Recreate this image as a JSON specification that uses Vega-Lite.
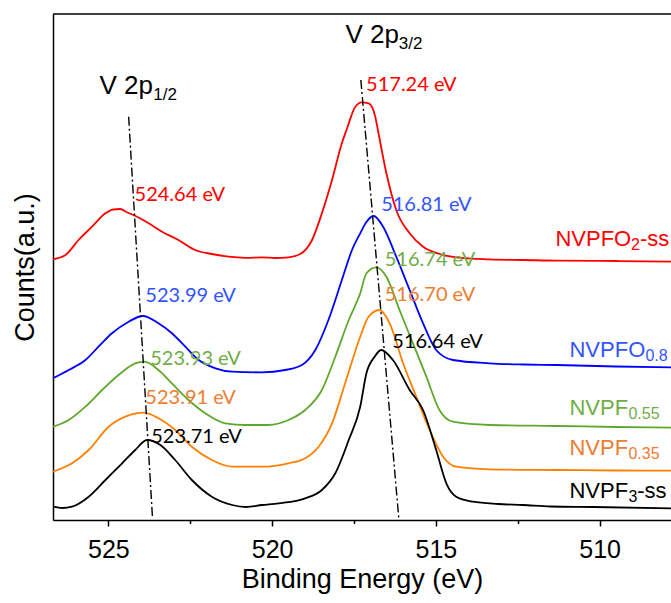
{
  "$schema": "https://vega.github.io/schema/vega-lite/v6.json",
  "width": 618,
  "height": 506,
  "autosize": {"type": "none"},
  "padding": {"left": 53, "top": 14, "right": 0, "bottom": 83},
  "background": "white",
  "config": {
    "view": {"stroke": null},
    "font": "Liberation Sans"
  },
  "datasets": {
    "spectra": [
      {"series": "NVPFO2-ss", "E": 526.69, "v": 260.7},
      {"series": "NVPFO2-ss", "E": 526.31, "v": 265},
      {"series": "NVPFO2-ss", "E": 525.91, "v": 280},
      {"series": "NVPFO2-ss", "E": 525.5, "v": 293.3},
      {"series": "NVPFO2-ss", "E": 525.09, "v": 306.7},
      {"series": "NVPFO2-ss", "E": 524.85, "v": 310.5},
      {"series": "NVPFO2-ss", "E": 524.64, "v": 311},
      {"series": "NVPFO2-ss", "E": 524.42, "v": 307.5},
      {"series": "NVPFO2-ss", "E": 524.23, "v": 305},
      {"series": "NVPFO2-ss", "E": 523.77, "v": 296.7},
      {"series": "NVPFO2-ss", "E": 523.36, "v": 288.3},
      {"series": "NVPFO2-ss", "E": 522.86, "v": 280},
      {"series": "NVPFO2-ss", "E": 522.35, "v": 270},
      {"series": "NVPFO2-ss", "E": 521.84, "v": 266},
      {"series": "NVPFO2-ss", "E": 521.33, "v": 263.3},
      {"series": "NVPFO2-ss", "E": 520.8, "v": 262.2},
      {"series": "NVPFO2-ss", "E": 520.31, "v": 262.7},
      {"series": "NVPFO2-ss", "E": 519.9, "v": 262},
      {"series": "NVPFO2-ss", "E": 519.5, "v": 262.7},
      {"series": "NVPFO2-ss", "E": 519.14, "v": 266},
      {"series": "NVPFO2-ss", "E": 518.78, "v": 280},
      {"series": "NVPFO2-ss", "E": 518.48, "v": 306.7},
      {"series": "NVPFO2-ss", "E": 518.17, "v": 340},
      {"series": "NVPFO2-ss", "E": 517.87, "v": 376.7},
      {"series": "NVPFO2-ss", "E": 517.71, "v": 391.7},
      {"series": "NVPFO2-ss", "E": 517.46, "v": 413.3},
      {"series": "NVPFO2-ss", "E": 517.26, "v": 417.7},
      {"series": "NVPFO2-ss", "E": 517.05, "v": 416.7},
      {"series": "NVPFO2-ss", "E": 516.85, "v": 403.3},
      {"series": "NVPFO2-ss", "E": 516.77, "v": 390},
      {"series": "NVPFO2-ss", "E": 516.51, "v": 346.7},
      {"series": "NVPFO2-ss", "E": 516.21, "v": 310},
      {"series": "NVPFO2-ss", "E": 515.8, "v": 286.7},
      {"series": "NVPFO2-ss", "E": 515.39, "v": 273.3},
      {"series": "NVPFO2-ss", "E": 514.89, "v": 266},
      {"series": "NVPFO2-ss", "E": 514.38, "v": 262.7},
      {"series": "NVPFO2-ss", "E": 513.36, "v": 260.7},
      {"series": "NVPFO2-ss", "E": 512.3, "v": 260},
      {"series": "NVPFO2-ss", "E": 511.32, "v": 259.3},
      {"series": "NVPFO2-ss", "E": 509.5, "v": 259},
      {"series": "NVPFO2-ss", "E": 507.81, "v": 258.3},

      {"series": "NVPFO0.8", "E": 526.69, "v": 141.7},
      {"series": "NVPFO0.8", "E": 526.21, "v": 150},
      {"series": "NVPFO0.8", "E": 525.7, "v": 160},
      {"series": "NVPFO0.8", "E": 525.3, "v": 173.3},
      {"series": "NVPFO0.8", "E": 524.89, "v": 186.7},
      {"series": "NVPFO0.8", "E": 524.38, "v": 198.3},
      {"series": "NVPFO0.8", "E": 523.95, "v": 204},
      {"series": "NVPFO0.8", "E": 523.47, "v": 196.7},
      {"series": "NVPFO0.8", "E": 523.06, "v": 186.7},
      {"series": "NVPFO0.8", "E": 522.65, "v": 173.3},
      {"series": "NVPFO0.8", "E": 522.24, "v": 160},
      {"series": "NVPFO0.8", "E": 521.73, "v": 151.7},
      {"series": "NVPFO0.8", "E": 521.22, "v": 148.3},
      {"series": "NVPFO0.8", "E": 520.31, "v": 147.7},
      {"series": "NVPFO0.8", "E": 519.6, "v": 150},
      {"series": "NVPFO0.8", "E": 519.09, "v": 155},
      {"series": "NVPFO0.8", "E": 518.68, "v": 170},
      {"series": "NVPFO0.8", "E": 518.28, "v": 200},
      {"series": "NVPFO0.8", "E": 517.87, "v": 240},
      {"series": "NVPFO0.8", "E": 517.56, "v": 270},
      {"series": "NVPFO0.8", "E": 517.31, "v": 286.7},
      {"series": "NVPFO0.8", "E": 517.12, "v": 298},
      {"series": "NVPFO0.8", "E": 516.9, "v": 304},
      {"series": "NVPFO0.8", "E": 516.61, "v": 293.3},
      {"series": "NVPFO0.8", "E": 516.21, "v": 263.3},
      {"series": "NVPFO0.8", "E": 515.8, "v": 230},
      {"series": "NVPFO0.8", "E": 515.39, "v": 196.7},
      {"series": "NVPFO0.8", "E": 514.99, "v": 170},
      {"series": "NVPFO0.8", "E": 514.48, "v": 160},
      {"series": "NVPFO0.8", "E": 513.36, "v": 156.7},
      {"series": "NVPFO0.8", "E": 512.3, "v": 155.5},
      {"series": "NVPFO0.8", "E": 511.32, "v": 155},
      {"series": "NVPFO0.8", "E": 509.5, "v": 153.5},
      {"series": "NVPFO0.8", "E": 507.81, "v": 152.7},

      {"series": "NVPF0.55", "E": 526.69, "v": 93.3},
      {"series": "NVPF0.55", "E": 526.21, "v": 100},
      {"series": "NVPF0.55", "E": 525.7, "v": 113.3},
      {"series": "NVPF0.55", "E": 525.19, "v": 130},
      {"series": "NVPF0.55", "E": 524.69, "v": 145},
      {"series": "NVPF0.55", "E": 524.18, "v": 156.7},
      {"series": "NVPF0.55", "E": 523.9, "v": 158.3},
      {"series": "NVPF0.55", "E": 523.47, "v": 150},
      {"series": "NVPF0.55", "E": 523.06, "v": 136.7},
      {"series": "NVPF0.55", "E": 522.55, "v": 120},
      {"series": "NVPF0.55", "E": 522.04, "v": 106.7},
      {"series": "NVPF0.55", "E": 521.43, "v": 96.7},
      {"series": "NVPF0.55", "E": 520.82, "v": 95},
      {"series": "NVPF0.55", "E": 520.11, "v": 95},
      {"series": "NVPF0.55", "E": 519.5, "v": 100},
      {"series": "NVPF0.55", "E": 518.99, "v": 110},
      {"series": "NVPF0.55", "E": 518.48, "v": 130},
      {"series": "NVPF0.55", "E": 518.07, "v": 163.3},
      {"series": "NVPF0.55", "E": 517.66, "v": 200},
      {"series": "NVPF0.55", "E": 517.31, "v": 226.7},
      {"series": "NVPF0.55", "E": 517.12, "v": 246.7},
      {"series": "NVPF0.55", "E": 516.82, "v": 252.7},
      {"series": "NVPF0.55", "E": 516.51, "v": 243.3},
      {"series": "NVPF0.55", "E": 516.11, "v": 210},
      {"series": "NVPF0.55", "E": 515.7, "v": 176.7},
      {"series": "NVPF0.55", "E": 515.29, "v": 143.3},
      {"series": "NVPF0.55", "E": 514.89, "v": 110},
      {"series": "NVPF0.55", "E": 514.48, "v": 98.3},
      {"series": "NVPF0.55", "E": 513.36, "v": 95},
      {"series": "NVPF0.55", "E": 511.32, "v": 94},
      {"series": "NVPF0.55", "E": 509.5, "v": 93},
      {"series": "NVPF0.55", "E": 507.81, "v": 92.3},

      {"series": "NVPF0.35", "E": 526.69, "v": 48.3},
      {"series": "NVPF0.35", "E": 526.11, "v": 56.7},
      {"series": "NVPF0.35", "E": 525.6, "v": 70},
      {"series": "NVPF0.35", "E": 524.99, "v": 93.3},
      {"series": "NVPF0.35", "E": 524.48, "v": 103.3},
      {"series": "NVPF0.35", "E": 523.92, "v": 107.3},
      {"series": "NVPF0.35", "E": 523.47, "v": 101.7},
      {"series": "NVPF0.35", "E": 522.96, "v": 90},
      {"series": "NVPF0.35", "E": 522.45, "v": 73.3},
      {"series": "NVPF0.35", "E": 521.84, "v": 60},
      {"series": "NVPF0.35", "E": 521.22, "v": 53.3},
      {"series": "NVPF0.35", "E": 520.31, "v": 53.3},
      {"series": "NVPF0.35", "E": 519.5, "v": 56.7},
      {"series": "NVPF0.35", "E": 518.99, "v": 61.7},
      {"series": "NVPF0.35", "E": 518.58, "v": 73.3},
      {"series": "NVPF0.35", "E": 518.17, "v": 96.7},
      {"series": "NVPF0.35", "E": 517.77, "v": 136.7},
      {"series": "NVPF0.35", "E": 517.31, "v": 183.3},
      {"series": "NVPF0.35", "E": 517.06, "v": 203},
      {"series": "NVPF0.35", "E": 516.72, "v": 210},
      {"series": "NVPF0.35", "E": 516.41, "v": 196.7},
      {"series": "NVPF0.35", "E": 516.0, "v": 156.7},
      {"series": "NVPF0.35", "E": 515.6, "v": 123.3},
      {"series": "NVPF0.35", "E": 515.19, "v": 90},
      {"series": "NVPF0.35", "E": 514.78, "v": 63.3},
      {"series": "NVPF0.35", "E": 514.38, "v": 53.3},
      {"series": "NVPF0.35", "E": 513.36, "v": 50.7},
      {"series": "NVPF0.35", "E": 511.32, "v": 50},
      {"series": "NVPF0.35", "E": 509.5, "v": 49.5},
      {"series": "NVPF0.35", "E": 507.81, "v": 49.3},

      {"series": "NVPF3-ss", "E": 526.69, "v": 13.3},
      {"series": "NVPF3-ss", "E": 526.4, "v": 12},
      {"series": "NVPF3-ss", "E": 526.11, "v": 13.3},
      {"series": "NVPF3-ss", "E": 525.6, "v": 23.3},
      {"series": "NVPF3-ss", "E": 525.09, "v": 40},
      {"series": "NVPF3-ss", "E": 524.58, "v": 56.7},
      {"series": "NVPF3-ss", "E": 524.18, "v": 70},
      {"series": "NVPF3-ss", "E": 523.82, "v": 80},
      {"series": "NVPF3-ss", "E": 523.41, "v": 75},
      {"series": "NVPF3-ss", "E": 522.96, "v": 60},
      {"series": "NVPF3-ss", "E": 522.45, "v": 40},
      {"series": "NVPF3-ss", "E": 521.84, "v": 23.3},
      {"series": "NVPF3-ss", "E": 521.22, "v": 15},
      {"series": "NVPF3-ss", "E": 520.8, "v": 13},
      {"series": "NVPF3-ss", "E": 520.31, "v": 15},
      {"series": "NVPF3-ss", "E": 519.8, "v": 16.7},
      {"series": "NVPF3-ss", "E": 518.99, "v": 21.7},
      {"series": "NVPF3-ss", "E": 518.48, "v": 30},
      {"series": "NVPF3-ss", "E": 518.07, "v": 46.7},
      {"series": "NVPF3-ss", "E": 517.66, "v": 80},
      {"series": "NVPF3-ss", "E": 517.31, "v": 113.3},
      {"series": "NVPF3-ss", "E": 517.12, "v": 146.7},
      {"series": "NVPF3-ss", "E": 516.87, "v": 163.3},
      {"series": "NVPF3-ss", "E": 516.67, "v": 170},
      {"series": "NVPF3-ss", "E": 516.31, "v": 160},
      {"series": "NVPF3-ss", "E": 515.8, "v": 130},
      {"series": "NVPF3-ss", "E": 515.39, "v": 110},
      {"series": "NVPF3-ss", "E": 514.99, "v": 70},
      {"series": "NVPF3-ss", "E": 514.68, "v": 36.7},
      {"series": "NVPF3-ss", "E": 514.38, "v": 23.3},
      {"series": "NVPF3-ss", "E": 513.87, "v": 18.3},
      {"series": "NVPF3-ss", "E": 513.1, "v": 16},
      {"series": "NVPF3-ss", "E": 512.34, "v": 15},
      {"series": "NVPF3-ss", "E": 511.5, "v": 13.5},
      {"series": "NVPF3-ss", "E": 510.2, "v": 13},
      {"series": "NVPF3-ss", "E": 507.81, "v": 11.7}
    ],
    "guides": [
      {"guide": "p12", "E": 524.38, "v": 403.3},
      {"guide": "p12", "E": 523.65, "v": 1},
      {"guide": "p32", "E": 517.29, "v": 440},
      {"guide": "p32", "E": 516.13, "v": 1}
    ],
    "peaks": [
      {"series": "NVPFO2-ss", "text": "517.24 eV", "E": 517.13, "v": 429.4},
      {"series": "NVPFO2-ss", "text": "524.64 eV", "E": 524.2, "v": 319.4},
      {"series": "NVPFO0.8", "text": "523.99 eV", "E": 523.87, "v": 217.7},
      {"series": "NVPFO0.8", "text": "516.81 eV", "E": 516.67, "v": 309.4},
      {"series": "NVPF0.55", "text": "523.93 eV", "E": 523.72, "v": 155},
      {"series": "NVPF0.55", "text": "516.74 eV", "E": 516.56, "v": 254.4},
      {"series": "NVPF0.35", "text": "523.91 eV", "E": 523.87, "v": 116},
      {"series": "NVPF0.35", "text": "516.70 eV", "E": 516.56, "v": 219.4},
      {"series": "NVPF3-ss", "text": "523.71 eV", "E": 523.69, "v": 77},
      {"series": "NVPF3-ss", "text": "516.64 eV", "E": 516.33, "v": 172}
    ],
    "names": [
      {"series": "NVPFO2-ss", "part": "main", "text": "NVPFO", "E": 511.35, "v": 274},
      {"series": "NVPFO2-ss", "part": "sub", "text": "2", "E": 509.04, "v": 274},
      {"series": "NVPFO2-ss", "part": "main", "text": "-ss", "E": 508.77, "v": 274},
      {"series": "NVPFO0.8", "part": "main", "text": "NVPFO", "E": 510.92, "v": 163.3},
      {"series": "NVPFO0.8", "part": "sub", "text": "0.8", "E": 508.6, "v": 163.3},
      {"series": "NVPF0.55", "part": "main", "text": "NVPF", "E": 510.92, "v": 105},
      {"series": "NVPF0.55", "part": "sub", "text": "0.55", "E": 509.12, "v": 105},
      {"series": "NVPF0.35", "part": "main", "text": "NVPF", "E": 510.92, "v": 65},
      {"series": "NVPF0.35", "part": "sub", "text": "0.35", "E": 509.12, "v": 65},
      {"series": "NVPF3-ss", "part": "main", "text": "NVPF", "E": 510.92, "v": 21.7},
      {"series": "NVPF3-ss", "part": "sub", "text": "3", "E": 509.12, "v": 21.7},
      {"series": "NVPF3-ss", "part": "main", "text": "-ss", "E": 508.85, "v": 21.7}
    ],
    "headers": [
      {"part": "main", "text": "V 2p", "E": 525.27, "v": 426},
      {"part": "sub", "text": "1/2", "E": 523.63, "v": 426},
      {"part": "main", "text": "V 2p", "E": 517.76, "v": 476.7},
      {"part": "sub", "text": "3/2", "E": 516.13, "v": 476.7}
    ]
  },
  "encoding": {
    "x": {
      "field": "E",
      "type": "quantitative",
      "scale": {"domain": [507.82, 526.69], "reverse": true, "nice": false, "zero": false},
      "axis": {
        "title": "Binding Energy (eV)",
        "values": [525, 522.5, 520, 517.5, 515, 512.5, 510],
        "labelExpr": "datum.value % 5 === 0 ? datum.label : ''",
        "tickSize": {"condition": {"test": "datum.value % 5 === 0", "value": 6}, "value": 3.5},
        "grid": false,
        "domainColor": "black",
        "domainWidth": 1.5,
        "tickColor": "black",
        "tickWidth": 1.5,
        "labelColor": "black",
        "labelFont": "Liberation Sans",
        "labelFontSize": 25,
        "labelPadding": 11,
        "labelOverlap": false,
        "labelFlush": false,
        "titleColor": "black",
        "titleFont": "Liberation Sans",
        "titleFontSize": 27,
        "titleFontWeight": "normal",
        "titlePadding": 4
      }
    },
    "y": {
      "field": "v",
      "type": "quantitative",
      "scale": {"domain": [0, 506], "nice": false, "zero": false},
      "axis": {
        "title": "Counts(a.u.)",
        "labels": false,
        "ticks": false,
        "grid": false,
        "domainColor": "black",
        "domainWidth": 1.5,
        "titleColor": "black",
        "titleFont": "Liberation Sans",
        "titleFontSize": 27,
        "titleFontWeight": "normal",
        "titlePadding": 14
      }
    }
  },
  "layer": [
    {
      "data": {"name": "spectra"},
      "mark": {"type": "line", "strokeWidth": 1.8, "interpolate": "monotone"},
      "encoding": {
        "color": {
          "field": "series",
          "type": "nominal",
          "scale": {
            "domain": ["NVPFO2-ss", "NVPFO0.8", "NVPF0.55", "NVPF0.35", "NVPF3-ss"],
            "range": ["#FF0000", "#0000FF", "#5FA82C", "#FF8000", "#000000"]
          },
          "legend": null
        }
      }
    },
    {
      "data": {"name": "guides"},
      "mark": {"type": "line", "color": "black", "strokeWidth": 1.4, "strokeDash": [9, 3, 2, 3]},
      "encoding": {"detail": {"field": "guide"}}
    },
    {
      "data": {"values": [{"top": 506}]},
      "mark": {"type": "rule", "color": "black", "strokeWidth": 1.5},
      "encoding": {"y": {"field": "top", "type": "quantitative"}, "x": null}
    },
    {
      "data": {"name": "peaks"},
      "mark": {"type": "text", "font": "Lato", "fontSize": 20, "align": "left", "baseline": "alphabetic"},
      "encoding": {
        "text": {"field": "text"},
        "color": {
          "field": "series",
          "type": "nominal",
          "scale": {
            "domain": ["NVPFO2-ss", "NVPFO0.8", "NVPF0.55", "NVPF0.35", "NVPF3-ss"],
            "range": ["#FF0000", "#3355FF", "#70AD47", "#ED7D31", "#000000"]
          },
          "legend": null
        }
      }
    },
    {
      "data": {"name": "names"},
      "transform": [{"filter": "datum.part === 'main'"}],
      "mark": {"type": "text", "font": "Liberation Sans", "fontSize": 22, "align": "left", "baseline": "alphabetic"},
      "encoding": {
        "text": {"field": "text"},
        "color": {
          "field": "series",
          "type": "nominal",
          "scale": {
            "domain": ["NVPFO2-ss", "NVPFO0.8", "NVPF0.55", "NVPF0.35", "NVPF3-ss"],
            "range": ["#FF0000", "#3355FF", "#70AD47", "#ED7D31", "#000000"]
          },
          "legend": null
        }
      }
    },
    {
      "data": {"name": "names"},
      "transform": [{"filter": "datum.part === 'sub'"}],
      "mark": {"type": "text", "font": "Liberation Sans", "fontSize": 16, "align": "left", "baseline": "alphabetic", "dy": 4},
      "encoding": {
        "text": {"field": "text"},
        "color": {
          "field": "series",
          "type": "nominal",
          "scale": {
            "domain": ["NVPFO2-ss", "NVPFO0.8", "NVPF0.55", "NVPF0.35", "NVPF3-ss"],
            "range": ["#FF0000", "#3355FF", "#70AD47", "#ED7D31", "#000000"]
          },
          "legend": null
        }
      }
    },
    {
      "data": {"name": "headers"},
      "transform": [{"filter": "datum.part === 'main'"}],
      "mark": {"type": "text", "font": "Liberation Sans", "fontSize": 26, "align": "left", "baseline": "alphabetic", "color": "black"},
      "encoding": {"text": {"field": "text"}}
    },
    {
      "data": {"name": "headers"},
      "transform": [{"filter": "datum.part === 'sub'"}],
      "mark": {"type": "text", "font": "Liberation Sans", "fontSize": 17, "align": "left", "baseline": "alphabetic", "color": "black", "dy": 6},
      "encoding": {"text": {"field": "text"}}
    }
  ],
  "resolve": {"scale": {"color": "independent"}}
}
